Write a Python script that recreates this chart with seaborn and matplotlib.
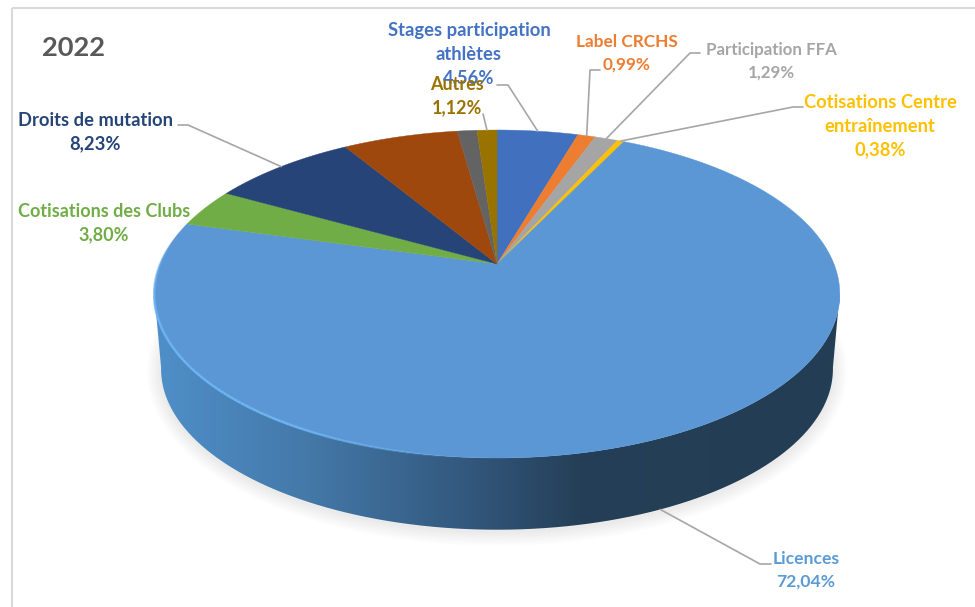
import numpy as np
import pandas as pd
import matplotlib.pyplot as plt
from matplotlib.colors import LinearSegmentedColormap
from matplotlib.patches import PathPatch, Rectangle
from matplotlib.path import Path
import seaborn as sns

# ------------------ Data ------------------
categories = ["Stages participation\nathlètes", "Label CRCHS", "Participation FFA",
              "Cotisations Centre\nentraînement", "Licences", "Cotisations des Clubs",
              "Droits de mutation", "", "", "Autres"]
values = [4.56, 0.99, 1.29, 0.38, 72.04, 3.80, 8.23, 6.49, 1.10, 1.12]
value_labels = ["4,56%", "0,99%", "1,29%", "0,38%", "72,04%", "3,80%", "8,23%", "", "", "1,12%"]
slice_colors = ["#4170BE", "#ED7D31", "#A5A5A5", "#FFC000", "#5B97D5",
                "#70AD47", "#264478", "#9E480E", "#636363", "#997300"]
title = "2022"

# ------------------ Layout (pixels) ------------------
CX, CY = 497, 264
A, B, K = 158.5, 337, 0.183
DEPTH = 75
BOTTOM_SCALE = 0.98
ELLIPSE_CY = 294

text_colors = ["#4472C4", "#ED7D31", "#A5A5A5", "#FFC000", "#5B9BD5",
               "#70AD47", "#264478", None, None, "#997300"]
text_pos = [(469, 54), (627, 53), (771, 61), (880, 126), (806, 570),
            (104, 223), (95, 132), None, None, (457, 96)]
text_sizes = [13.2, 12.4, 12.2, 13.2, 12.6, 13.0, 13.2, None, None, 13.0]
elbows = [[(497, 85), (508, 85)], [(600, 70), (590, 70)], [(700, 53), (690, 53)],
          [(803, 107), (793, 107)], [(771, 564), (760, 564)], None,
          [(178, 125), (188, 125)], None, None, [(483, 114), (483, 114)]]


def project(theta):
    # clockwise angle from the top of the disc, with a bit of perspective
    u, v = np.sin(theta), np.cos(theta)
    w = 1 + K * v
    return CX + B * u / w, CY - A * v / w


def project_bottom(theta):
    x, y = project(theta)
    return CX + (x - CX) * BOTTOM_SCALE, ELLIPSE_CY + DEPTH + (y - ELLIPSE_CY) * BOTTOM_SCALE


sns.set_theme(style="white")
plt.rcParams['font.family'] = ['Lato', 'DejaVu Sans']
palette = sns.color_palette(slice_colors)

fig = plt.figure(figsize=(9.75, 6.07), dpi=100)
ax = fig.add_axes([0, 0, 1, 1])
ax.set_xlim(0, 975)
ax.set_ylim(607, 0)
ax.axis("off")

# frame of the original chart area
ax.add_patch(Rectangle((12, 8), 1000, 700, fill=False, edgecolor="#D9D9D9", linewidth=1.5))

df = pd.DataFrame({"category": categories, "value": values})
df["end"] = df["value"].cumsum() / df["value"].sum() * 2 * np.pi
df["start"] = df["end"].shift(fill_value=0)
df["mid"] = (df["start"] + df["end"]) / 2

# soft shadow under the disc
t = np.linspace(0, 2 * np.pi, 400)
bx, by = project_bottom(t)
for lw in np.arange(20, 1, -3):
    ax.fill(bx, by + 2, facecolor="none", edgecolor="#000000", alpha=0.012, linewidth=lw, zorder=1)

# side wall with horizontal gradient
front = np.linspace(np.radians(100), np.radians(260), 300)
tx, ty = project(front)
ux, uy = project_bottom(front[::-1])
wall = Path(np.column_stack([np.r_[tx, ux], np.r_[ty, uy]]))
wall_cmap = LinearSegmentedColormap.from_list(
    "wall", [(0, "#4F8FC9"), (0.22, "#4479A9"), (0.45, "#33597E"), (0.62, "#253F58"), (1, "#233D54")])
img = ax.imshow(np.linspace(0, 1, 256).reshape(1, -1), cmap=wall_cmap, aspect="auto",
                extent=(155, 840, 607, 0), zorder=2)
ax.set_xlim(0, 975)
ax.set_ylim(607, 0)
clip = PathPatch(wall, facecolor="none", edgecolor="none", transform=ax.transData)
ax.add_patch(clip)
img.set_clip_path(clip)

# top face
for i, row in df.iterrows():
    th = np.linspace(row["start"], row["end"], max(int(row["value"] * 8), 4))
    x, y = project(th)
    ax.fill(np.r_[CX, x], np.r_[CY, y], color=palette[i], linewidth=0.3, zorder=3)

# light rim on the lower left of the disc, fading at both ends
rim = np.linspace(np.radians(185), np.radians(280), 120)
rx, ry = project(rim)
for j in range(len(rim) - 1):
    fade = np.sin(np.pi * (j + 0.5) / (len(rim) - 1))
    ax.plot(rx[j:j + 2], ry[j:j + 2], color="#6DB3F2", linewidth=1.8,
            alpha=min(1, 1.3 * fade), solid_capstyle="butt", zorder=4)

# leader lines, ending on the rim at the middle of each slice
for i, row in df.iterrows():
    if elbows[i] is None:
        continue
    if categories[i] == "Licences":
        ex, ey = project_bottom(row["mid"])
    else:
        ex, ey = project(row["mid"])
    pts = elbows[i] + [(ex, ey)]
    ax.plot([p[0] for p in pts], [p[1] for p in pts], color="#A6A6A6", linewidth=1.2, zorder=5)

# labels
for i, row in df.iterrows():
    if text_pos[i] is None:
        continue
    ax.text(text_pos[i][0], text_pos[i][1], f"{categories[i]}\n{value_labels[i]}",
            color=text_colors[i], ha="center", va="center", fontsize=text_sizes[i], fontweight="bold",
            linespacing=1.47, zorder=6)

ax.text(42, 48, title, color="#595959", fontsize=19.6, fontweight="bold", ha="left", va="center", zorder=6)

fig.savefig("out.png", dpi=100)
